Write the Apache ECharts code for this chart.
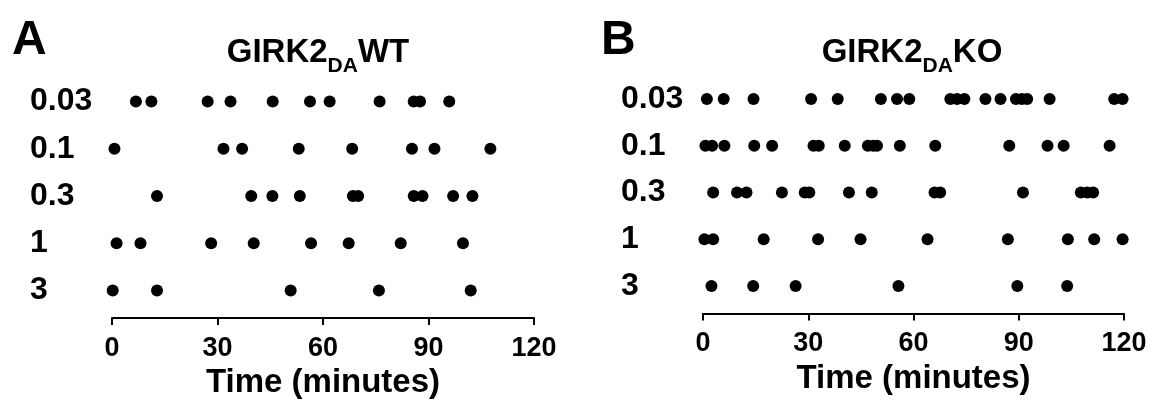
<!DOCTYPE html>
<html>
<head>
<meta charset="utf-8">
<script src="https://cdn.jsdelivr.net/npm/echarts@6/dist/echarts.min.js"></script>
<style>
  html, body { margin: 0; padding: 0; background: #fff; }
  #chart { width: 1161px; height: 414px; }
</style>
</head>
<body>
<div id="chart"></div>
<script>
// concentrations (rows, top to bottom)
const rows = ['0.03', '0.1', '0.3', '1', '3']
const xTicks = [0, 30, 60, 90, 120]

// GIRK2 DA WT, times (minutes) of each dot per row
const wt003 = [6.8, 11.2, 27.2, 33.7, 45.7, 56.3, 61.9, 76.1, 85.8, 87.6, 95.9]
const wt01 = [0.7, 31.7, 37.0, 53.1, 68.3, 85.3, 91.7, 107.6]
const wt03 = [12.8, 39.6, 45.6, 53.4, 68.5, 70.0, 85.8, 88.3, 97.0, 102.5]
const wt1 = [1.3, 8.1, 28.2, 40.3, 56.6, 67.3, 82.1, 99.8]
const wt3 = [0.2, 12.8, 50.8, 75.9, 102.0]

// GIRK2 DA KO
const ko003 = [1.1, 5.9, 14.4, 30.8, 38.4, 50.7, 55.3, 58.8, 70.5, 72.4, 74.5, 80.5, 84.8, 89.2, 90.9, 92.4, 98.8, 117.2, 119.6]
const ko01 = [0.7, 2.6, 6.1, 14.6, 19.7, 31.5, 33.0, 40.4, 47.0, 48.5, 49.6, 56.1, 66.2, 87.3, 98.2, 102.8, 115.9]
const ko03 = [2.9, 9.7, 12.4, 22.5, 29.0, 30.3, 41.6, 48.1, 66.0, 67.6, 91.2, 107.7, 109.5, 111.2]
const ko1 = [0.4, 2.9, 17.3, 32.8, 44.9, 64.0, 86.9, 104.0, 111.5, 119.6]
const ko3 = [2.4, 14.3, 26.4, 55.7, 89.6, 103.8]

const FONT = '"Liberation Sans", Arial, sans-serif'

function toPoints(lists) {
  let pts = []
  lists.forEach(function (list, i) {
    list.forEach(function (t) { pts.push([t, rows[i]]) })
  })
  return pts
}

function xAxisOf(idx, offset) {
  return {
    type: 'value', gridIndex: idx, min: 0, max: 120, interval: 30,
    offset: offset,
    splitLine: { show: false },
    axisLine: { show: true, lineStyle: { color: '#000', width: 2 } },
    axisTick: { show: true, length: 7, lineStyle: { color: '#000', width: 2 } },
    axisLabel: {
      color: '#000', fontSize: 27, fontWeight: 'bold', fontFamily: FONT, margin: 17,
      formatter: function (v) { return xTicks.indexOf(v) >= 0 ? String(v) : '' }
    },
    name: 'Time (minutes)', nameLocation: 'middle', nameGap: 45,
    nameTextStyle: { color: '#000', fontSize: 33, fontWeight: 'bold', fontFamily: FONT }
  }
}

function yAxisOf(idx) {
  return {
    type: 'category', gridIndex: idx, data: rows, inverse: true,
    axisLine: { show: false }, axisTick: { show: false }, splitLine: { show: false },
    axisLabel: {
      color: '#000', fontSize: 32, fontWeight: 'bold', fontFamily: FONT,
      align: 'left', margin: 82
    }
  }
}

function titleOf(text, x, y) {
  return {
    text: text, left: x, top: y, textAlign: 'center',
    textStyle: {
      rich: {
        a: { fontSize: 33, fontWeight: 'bold', fontFamily: FONT, color: '#000', lineHeight: 38 },
        s: { fontSize: 21, fontWeight: 'bold', fontFamily: FONT, color: '#000', lineHeight: 24, verticalAlign: 'bottom', padding: [0, 0, -5, 0] }
      }
    }
  }
}

const chart = echarts.init(document.getElementById('chart'), null, { renderer: 'canvas' })
chart.setOption({
  backgroundColor: '#fff',
  animation: false,
  title: [
    { text: 'A', left: 7, top: 12, textStyle: { fontSize: 48, fontWeight: 'bold', fontFamily: FONT, color: '#000' } },
    { text: 'B', left: 596, top: 12, textStyle: { fontSize: 48, fontWeight: 'bold', fontFamily: FONT, color: '#000' } },
    titleOf('{a|GIRK2}{s|DA}{a|WT}', 313, 29),
    titleOf('{a|GIRK2}{s|DA}{a|KO}', 907, 29)
  ],
  grid: [
    { left: 112, width: 422, top: 78, height: 236 },
    { left: 703, width: 421, top: 75.5, height: 234 }
  ],
  xAxis: [xAxisOf(0, 4), xAxisOf(1, 4)],
  yAxis: [yAxisOf(0), yAxisOf(1)],
  series: [
    {
      type: 'scatter', xAxisIndex: 0, yAxisIndex: 0, symbolSize: 12,
      itemStyle: { color: '#000', opacity: 1 },
      data: toPoints([wt003, wt01, wt03, wt1, wt3])
    },
    {
      type: 'scatter', xAxisIndex: 1, yAxisIndex: 1, symbolSize: 12,
      itemStyle: { color: '#000', opacity: 1 },
      data: toPoints([ko003, ko01, ko03, ko1, ko3])
    }
  ]
})
</script>
</body>
</html>
